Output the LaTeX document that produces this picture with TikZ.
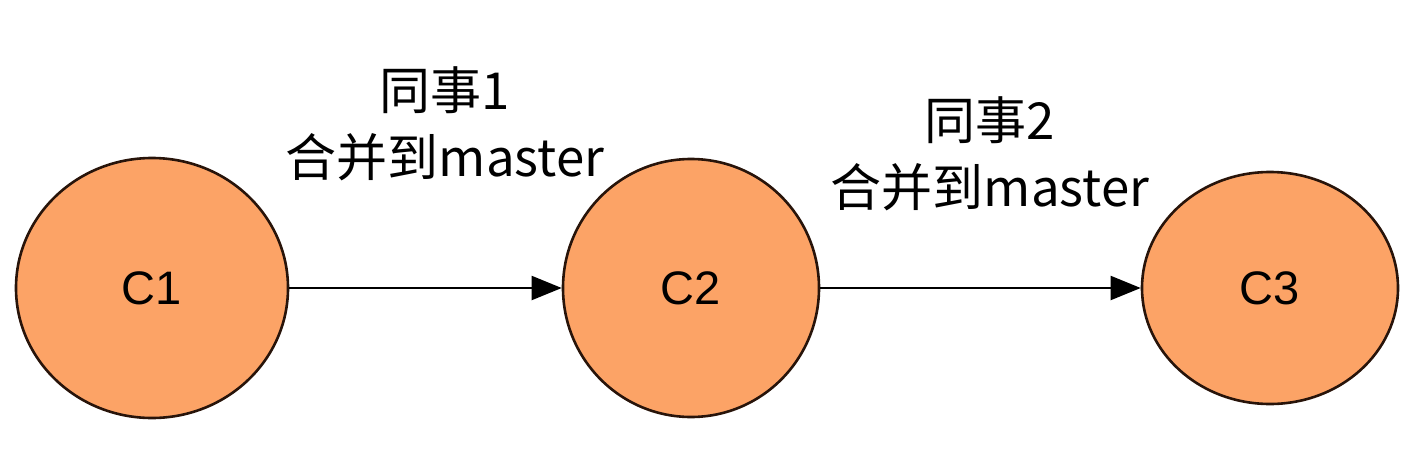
\documentclass[tikz,border=0pt]{standalone}
\usepackage{fontspec}
\setmainfont{Liberation Sans}
\newfontfamily\cjk{Noto Sans CJK SC}
\usetikzlibrary{shapes.geometric,arrows.meta}
\definecolor{commitfill}{RGB}{252,163,102}
\definecolor{commitline}{RGB}{40,20,10}
\begin{document}
\begin{tikzpicture}[x=1pt,y=-1pt,
  commit/.style={ellipse,draw=commitline,fill=commitfill,line width=2.6pt,inner sep=0pt,
    font=\fontsize{47}{56}\selectfont},
  link/.style={line width=2pt,-{Triangle[length=30pt,width=24pt]}},
  lbl/.style={font=\cjk\fontsize{51}{67}\selectfont,align=center,inner sep=0pt}]
\useasboundingbox (0,0) rectangle (1414,458);
\node[commit,minimum width=272pt,minimum height=260pt] (c1) at (152,288) {C1};
\node[commit,minimum width=256pt,minimum height=258pt] (c2) at (691,288) {C2};
\node[commit,minimum width=256pt,minimum height=232pt] (c3) at (1270,288) {C3};
\draw[link] (c1) -- (c2);
\draw[link] (c2) -- (c3);
\node[lbl] (l1) at (445,124) {同事1\\合并到master};
\node[lbl] (l2) at (990,154) {同事2\\合并到master};
\end{tikzpicture}
\end{document}
